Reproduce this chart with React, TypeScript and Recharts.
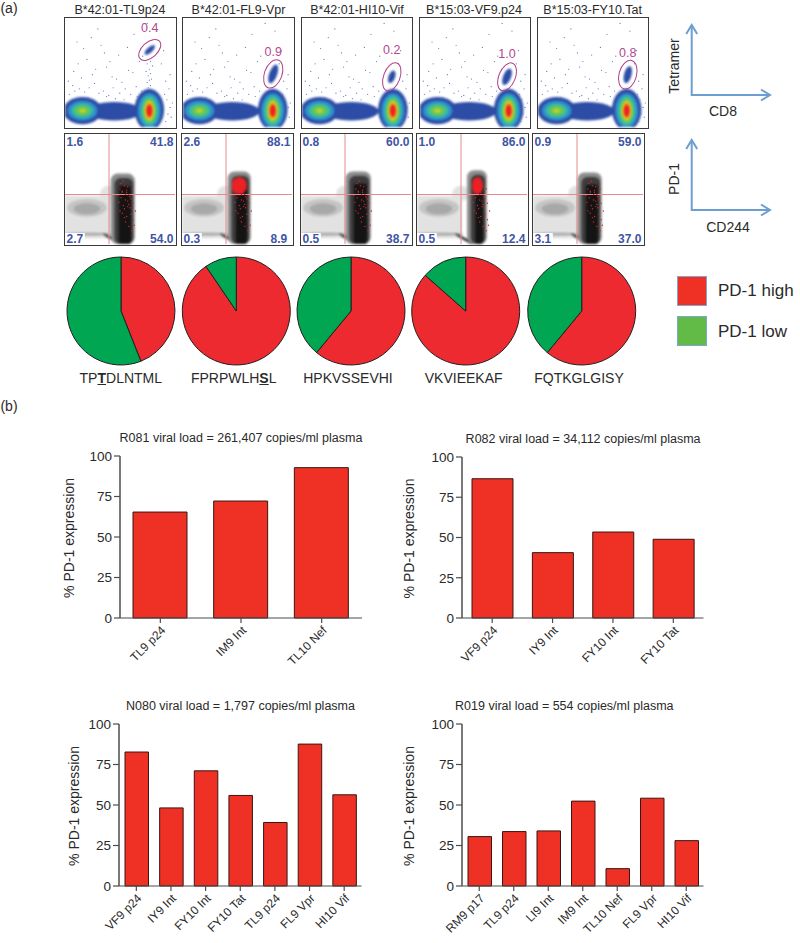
import {
  Bar,
  BarChart,
  CartesianGrid,
  Cell,
  Pie,
  PieChart,
  ReferenceArea,
  ReferenceDot,
  ReferenceLine,
  Scatter,
  ScatterChart,
  XAxis,
  YAxis,
} from "recharts";

const FONT = "'Liberation Sans', Arial, sans-serif";

// tetramer panels (a, top row)
const tetramerTitles = ["B*42:01-TL9p24", "B*42:01-FL9-Vpr", "B*42:01-HI10-Vif", "B*15:03-VF9.p24", "B*15:03-FY10.Tat"];
const tetramerLeft = [64, 182, 300.5, 418.5, 536.5];
const titleCentre = [120, 238.5, 357, 474, 592.7];
const lowBlobX = [16, 15, 16, 16, 17];
const highBlobX = [77, 82, 83, 81, 81];
const gateValues = ["0.4", "0.9", "0.2", "1.0", "0.8"];
const gateX = [77.4, 82.4, 82, 79.5, 82];
const gateY = [70.7, 48.7, 46, 46, 48];
const gateLong = [12, 13.5, 13.5, 13.5, 13.5];
const gateShort = [7, 8, 7.5, 7.5, 8];
const gateTilt = [48, 20, 20, 22, 15];
const gateLabelY = [91.6, 69, 70.7, 67, 68];
const clusterLong = [6, 9, 6, 8, 8];
const clusterShort = [2.5, 3.6, 3, 3.6, 3.4];

const lowBlobLevels = [
  { level: 0, y: 15, rx: 17.5, ry: 12.5 },
  { level: 1, y: 15, rx: 13.5, ry: 9 },
  { level: 2, y: 15, rx: 10, ry: 6.5 },
  { level: 3, y: 15, rx: 6.5, ry: 4 },
  { level: 4, y: 15, rx: 3, ry: 2 },
];
const highBlobLevels = [
  { level: 0, y: 16, rx: 13.5, ry: 19 },
  { level: 1, y: 15, rx: 10.5, ry: 16 },
  { level: 2, y: 15, rx: 8, ry: 13.5 },
  { level: 3, y: 15, rx: 6, ry: 11 },
  { level: 4, y: 15, rx: 4.6, ry: 9 },
  { level: 5, y: 15, rx: 3.6, ry: 7.5 },
  { level: 6, y: 15, rx: 2.6, ry: 5.5 },
];
const bridgeBlob = { x: 45, y: 14.5, rx: 25, ry: 8.5, level: 0 };

const noiseX = [4, 9, 13, 7, 18, 22, 27, 31, 15, 25, 35, 40, 44, 38, 50, 55, 47, 60, 65, 58, 70, 3, 12, 20, 28, 36, 43, 52, 62, 68, 92, 94, 96, 93, 97, 91, 95, 98, 92, 96, 33, 41, 24, 17, 8, 49, 57, 63, 30, 11, 75, 88, 84, 71, 90, 38, 21, 46, 54, 66];
const noiseY = [30, 33, 35, 38, 32, 36, 40, 31, 45, 48, 33, 29, 36, 55, 31, 35, 44, 30, 37, 52, 33, 42, 58, 62, 53, 68, 46, 41, 50, 60, 5, 12, 18, 25, 9, 30, 35, 22, 42, 48, 75, 60, 82, 72, 51, 66, 73, 85, 90, 78, 95, 58, 88, 65, 70, 28, 27, 26, 25, 28];
const tailX = [76, 78, 75, 77, 79, 76, 78, 74, 77, 80, 75, 78];
const tailY = [36, 38, 41, 43, 44, 47, 49, 51, 53, 56, 58, 60];

// density panels (a, second row)
const densityLeft = [64, 181, 299.5, 415.5, 532];
const upperLeft = ["1.6", "2.6", "0.8", "1.0", "0.9"];
const upperRight = ["41.8", "88.1", "60.0", "86.0", "59.0"];
const lowerLeft = ["2.7", "0.3", "0.5", "0.5", "3.1"];
const lowerRight = ["54.0", "8.9", "38.7", "12.4", "37.0"];
const columnLeft = [43, 43, 42, 47, 42];
const columnRight = [62, 61, 62, 62, 61];
const columnTop = [61, 63, 63, 64, 62];
const hotX = [53, 52, 53, 55, 53];
const hotY = [46, 53, 45, 53, 50];
const hotWidth = [0, 7, 0, 5, 0];
const hotHeight = [0, 8, 0, 8, 0];
const speckleX = [48, 50, 52, 54, 56, 58, 60, 62, 49, 51, 53, 55, 57, 59, 61, 50, 52, 54, 56, 58, 60, 53, 55, 57, 59, 51, 54, 56, 62, 64, 63, 61, 55, 58, 52, 57];
const speckleY = [44, 50, 47, 53, 49, 45, 41, 37, 38, 42, 35, 45, 39, 33, 50, 30, 28, 32, 25, 36, 27, 57, 40, 52, 43, 55, 24, 47, 22, 30, 17, 12, 20, 16, 48, 34];

// pies
const pieHigh = [44, 90.5, 61, 86.5, 61];
const pieLow = [56, 9.5, 39, 13.5, 39];
const pieCentreX = [121, 236.3, 351, 465.7, 581.7];
const peptideCentreX = [120.8, 233.7, 348, 463.7, 579];

// bars (b)
const r081Categories = ["TL9 p24", "IM9 Int", "TL10 Nef"];
const r081Values = [65.4, 72.2, 92.8];
const r082Categories = ["VF9 p24", "IY9 Int", "FY10 Int", "FY10 Tat"];
const r082Values = [86.5, 40.6, 53.4, 48.9];
const n080Categories = ["VF9 p24", "IY9 Int", "FY10 Int", "FY10 Tat", "TL9 p24", "FL9 Vpr", "HI10 Vif"];
const n080Values = [82.7, 48.2, 71.1, 55.9, 39.2, 87.6, 56.3];
const r019Categories = ["RM9 p17", "TL9 p24", "LI9 Int", "IM9 Int", "TL10 Nef", "FL9 Vpr", "HI10 Vif"];
const r019Values = [30.5, 33.6, 34, 52.4, 10.7, 54.2, 28];
const percentTicks = [0, 25, 50, 75, 100];

const heatColors = ["#2c4ca6", "#2f90cc", "#38bfa5", "#74c648", "#c9dc2a", "#f6921e", "#ed2024"];
const lowHeatColors = ["#2c4ca6", "#2f90cc", "#3bbf9c", "#74c648", "#b5d334"];
const greyColors = ["#e2e2e2", "#c4c4c4", "#a8a8a8", "#8c8c8c", "#3c3c3c", "#141414"];

const FLOW_W = 112.5;
const FLOW_H = 112;

function Blob(props: any) {
  const { cx, cy, payload, colors, unitX, unitY } = props;
  const rx = payload.rx * unitX;
  const ry = payload.ry * unitY;
  const fill = colors[payload.level];
  if (payload.box) {
    return <rect x={cx - rx} y={cy - ry} width={rx * 2} height={ry * 2} rx={payload.round || 0} fill={fill} />;
  }
  return (
    <ellipse
      cx={cx}
      cy={cy}
      rx={rx}
      ry={ry}
      fill={payload.hollow ? "none" : fill}
      stroke={payload.hollow ? "#b0408a" : "none"}
      strokeWidth={1}
      transform={payload.tilt ? `rotate(${payload.tilt} ${cx} ${cy})` : undefined}
    />
  );
}

function PlotFrame({ left, top, width, height, blur, under, over }: any) {
  const axes = [
    <XAxis key="x" type="number" dataKey="x" domain={[0, 100]} hide />,
    <YAxis key="y" type="number" dataKey="y" domain={[0, 100]} hide />,
  ];
  const inner = { width: width - 3, height: height - 3 };
  return (
    <div
      style={{
        position: "absolute",
        left,
        top,
        width,
        height,
        boxSizing: "border-box",
        border: "1.5px solid #3a3a3a",
        overflow: "hidden",
        background: "#fff",
      }}
    >
      <div style={{ position: "absolute", left: 0, top: 0, filter: `blur(${blur}px)` }}>
        <ScatterChart {...inner} margin={{ top: 0, right: 0, bottom: 0, left: 0 }}>
          {axes}
          {under}
        </ScatterChart>
      </div>
      <div style={{ position: "absolute", left: 0, top: 0 }}>
        <ScatterChart {...inner} margin={{ top: 0, right: 0, bottom: 0, left: 0 }}>
          {axes}
          {over}
        </ScatterChart>
      </div>
    </div>
  );
}

function TetramerPanel({ i }: { i: number }) {
  const blobs = [
    { ...bridgeBlob },
    ...lowBlobLevels.map((b) => ({ ...b, x: lowBlobX[i], low: true })),
  ];
  const hot = highBlobLevels.map((b) => ({ ...b, x: highBlobX[i] }));
  const cluster = [{ x: gateX[i], y: gateY[i], rx: clusterShort[i], ry: clusterLong[i], tilt: gateTilt[i], level: 0 }];
  const gate = [{ x: gateX[i], y: gateY[i], rx: gateShort[i], ry: gateLong[i], tilt: gateTilt[i], hollow: true, level: 0 }];
  const noise = noiseX.map((x, k) => ({ x, y: noiseY[k] }));
  const tail = i === 0 ? tailX.map((x, k) => ({ x, y: tailY[k] })) : [];
  const unitX = (FLOW_W - 3) / 100;
  const unitY = (FLOW_H - 3) / 100;
  return (
    <PlotFrame
      left={tetramerLeft[i]}
      top={16.5}
      width={FLOW_W}
      height={FLOW_H}
      blur={1}
      under={[
        <Scatter key="low" data={blobs} isAnimationActive={false} shape={<Blob colors={lowHeatColors} unitX={unitX} unitY={unitY} />} />,
        <Scatter key="high" data={hot} isAnimationActive={false} shape={<Blob colors={heatColors} unitX={unitX} unitY={unitY} />} />,
        <Scatter key="cluster" data={cluster} isAnimationActive={false} shape={<Blob colors={heatColors} unitX={unitX} unitY={unitY} />} />,
      ]}
      over={[
        <Scatter key="noise" data={[...noise, ...tail]} isAnimationActive={false} shape={(p: any) => <circle cx={p.cx} cy={p.cy} r={0.6} fill="#5f78bd" />} />,
        <Scatter key="gate" data={gate} isAnimationActive={false} shape={<Blob colors={heatColors} unitX={unitX} unitY={unitY} />} />,
        <ReferenceDot
          key="value"
          x={gateX[i]}
          y={gateLabelY[i]}
          r={0}
          label={{ value: gateValues[i], position: "center", fill: "#b5478f", fontSize: 12.5, fontFamily: FONT }}
        />,
      ]}
    />
  );
}

function DensityPanel({ i }: { i: number }) {
  const mid = (columnLeft[i] + columnRight[i]) / 2;
  const half = (columnRight[i] - columnLeft[i]) / 2;
  const shapes = [
    { x: 20.5, y: 24.5, rx: 20.5, ry: 19.5, box: true, level: 0 },
    { x: 40, y: 46, rx: 8, ry: 7, level: 0 },
    { x: 20, y: 33, rx: 18, ry: 8, level: 1 },
    { x: 20, y: 32, rx: 12, ry: 5, level: 2 },
    { x: 20, y: 9, rx: 22, ry: 1.3, level: 2 },
    { x: 44, y: 4, rx: 11, ry: 1.3, tilt: 30, level: 4 },
    { x: mid, y: (columnTop[i] + 3) / 2, rx: half + 1.5, ry: (columnTop[i] + 3) / 2, box: true, round: 7, level: 3 },
    { x: mid + 1, y: (columnTop[i] - 1) / 2, rx: half - 1, ry: (columnTop[i] - 1) / 2, box: true, round: 6, level: 4 },
    { x: mid + 2, y: (columnTop[i] - 8) / 2, rx: half - 4, ry: (columnTop[i] - 8) / 2, box: true, round: 3, level: 5 },
  ];
  const speckle = speckleX.map((x, k) => ({ x: x + hotX[i] - 53, y: speckleY[k] }));
  const hot = hotWidth[i] ? [{ x: hotX[i], y: hotY[i], rx: hotWidth[i], ry: hotHeight[i], level: 6 }] : [];
  const unitX = (113 - 3) / 100;
  const unitY = (113 - 3) / 100;
  const labels = [
    { x: 9, y: 93, value: upperLeft[i] },
    { x: 88, y: 93, value: upperRight[i] },
    { x: 9, y: 5, value: lowerLeft[i] },
    { x: 88, y: 5, value: lowerRight[i] },
  ];
  return (
    <PlotFrame
      left={densityLeft[i]}
      top={133}
      width={113}
      height={113}
      blur={1.2}
      under={[
        <Scatter key="grey" data={shapes} isAnimationActive={false} shape={<Blob colors={greyColors} unitX={unitX} unitY={unitY} />} />,
        <Scatter key="hot" data={hot} isAnimationActive={false} shape={<Blob colors={heatColors} unitX={unitX} unitY={unitY} />} />,
      ]}
      over={[
        <ReferenceArea key="patch" x1={0} x2={18} y1={0} y2={10} fill="#fff" fillOpacity={1} stroke="none" />,
        <Scatter key="speckle" data={speckle} isAnimationActive={false} shape={(p: any) => <circle cx={p.cx} cy={p.cy} r={0.7} fill="#e0202a" />} />,
        <ReferenceLine key="v" x={40} stroke="#e98a8a" strokeWidth={1} />,
        <ReferenceLine key="h" y={45} stroke="#e98a8a" strokeWidth={1} />,
        ...labels.map((l) => (
          <ReferenceDot
            key={l.value + l.x + l.y}
            x={l.x}
            y={l.y}
            r={0}
            label={{ value: l.value, position: "center", fill: "#3f55a5", fontSize: 12, fontWeight: 700, fontFamily: FONT }}
          />
        )),
      ]}
    />
  );
}

function Peptide({ x, children }: any) {
  return (
    <div
      style={{
        position: "absolute",
        left: x - 60,
        top: 370,
        width: 120,
        textAlign: "center",
        fontSize: 14,
        lineHeight: "16px",
        color: "#2a2a2a",
        fontFamily: FONT,
      }}
    >
      {children}
    </div>
  );
}

function Caption({ x, y, size = 13, rotate = 0, children }: any) {
  return (
    <div
      style={{
        position: "absolute",
        left: x - 100,
        top: y - 12,
        width: 200,
        height: 24,
        lineHeight: "24px",
        textAlign: "center",
        fontSize: size,
        color: "#2a2a2a",
        fontFamily: FONT,
        transform: rotate ? `rotate(${rotate}deg)` : undefined,
        whiteSpace: "nowrap",
      }}
    >
      {children}
    </div>
  );
}

function AxisArrows({ originY, topY }: { originY: number; topY: number }) {
  const ox = 691.7;
  const ex = 770;
  const stroke = "#6c9ed2";
  return (
    <svg style={{ position: "absolute", left: 0, top: 0 }} width={800} height={260}>
      <g fill="none" stroke={stroke} strokeWidth={2}>
        <path d={`M${ox} ${topY} V${originY} H${ex}`} />
        <path d={`M${ox - 5.5} ${topY + 9} L${ox} ${topY} L${ox + 5.5} ${topY + 9}`} />
        <path d={`M${ex - 9} ${originY - 5.5} L${ex} ${originY} L${ex - 9} ${originY + 5.5}`} />
      </g>
    </svg>
  );
}

function PercentBars({ categories, values, title, titleX, plotLeft, plotTop, plotWidth, plotHeight, labelGap, barSize }: any) {
  const MARGIN_LEFT = 80;
  const MARGIN_TOP = 30;
  const rows = categories.map((name: string, k: number) => ({ name, value: values[k] }));
  const axisColor = "#4d4d4d";
  return (
    <div style={{ position: "absolute", left: plotLeft - MARGIN_LEFT, top: plotTop - MARGIN_TOP }}>
      <BarChart
        width={plotWidth + MARGIN_LEFT + 20}
        height={plotHeight + MARGIN_TOP + 60}
        data={rows}
        margin={{ top: MARGIN_TOP, right: 20, bottom: 0, left: 30 }}
        style={{ fontFamily: FONT }}
      >
        <CartesianGrid stroke="none" />
        <XAxis
          dataKey="name"
          interval={0}
          height={60}
          angle={-45}
          textAnchor="end"
          tickSize={5}
          tick={{ fontSize: 12, fill: "#2a2a2a" }}
          stroke={axisColor}
          tickLine={{ stroke: axisColor, strokeWidth: 1.2 }}
          axisLine={{ stroke: axisColor, strokeWidth: 1.2 }}
        />
        <YAxis
          width={50}
          domain={[0, 100]}
          ticks={percentTicks}
          tickSize={6}
          tick={{ fontSize: 13.5, fill: "#2a2a2a" }}
          tickLine={{ stroke: axisColor, strokeWidth: 1.2 }}
          axisLine={{ stroke: axisColor, strokeWidth: 1.5 }}
        />
        <Bar dataKey="value" barSize={barSize} fill="#ee3124" stroke="#3a1512" strokeWidth={1} isAnimationActive={false} />
        <text
          x={titleX - (plotLeft - MARGIN_LEFT)}
          y={MARGIN_TOP - 17}
          textAnchor="middle"
          dominantBaseline="middle"
          fontSize={12.5}
          fill="#2a2a2a"
        >
          {title}
        </text>
        <text
          transform={`translate(${MARGIN_LEFT - labelGap} ${MARGIN_TOP + plotHeight / 2 + 1}) rotate(-90)`}
          textAnchor="middle"
          dominantBaseline="middle"
          fontSize={14}
          fill="#2a2a2a"
        >
          % PD-1 expression
        </text>
      </BarChart>
    </div>
  );
}

export default function App() {
  return (
    <div style={{ position: "absolute", left: 0, top: 0, width: 800, height: 943, background: "#fff", overflow: "hidden" }}>
      <Caption x={9} y={8} size={14}>(a)</Caption>
      <Caption x={9} y={406} size={14}>(b)</Caption>

      {tetramerTitles.map((t, i) => (
        <Caption key={t} x={titleCentre[i]} y={9.5} size={12.5}>{t}</Caption>
      ))}
      {tetramerLeft.map((_, i) => <TetramerPanel key={i} i={i} />)}
      {densityLeft.map((_, i) => <DensityPanel key={i} i={i} />)}

      <AxisArrows originY={95} topY={25} />
      <AxisArrows originY={210} topY={140} />
      <Caption x={674} y={66} size={14} rotate={-90}>Tetramer</Caption>
      <Caption x={723} y={111} size={14}>CD8</Caption>
      <Caption x={674} y={179} size={14} rotate={-90}>PD-1</Caption>
      <Caption x={728} y={227} size={14}>CD244</Caption>

      <div style={{ position: "absolute", left: 0, top: 250 }}>
        <PieChart width={660} height={120} margin={{ top: 0, right: 0, bottom: 0, left: 0 }}>
          {pieHigh.map((v, i) => (
            <Pie
              key={i}
              data={[{ name: "PD-1 high", value: v }, { name: "PD-1 low", value: pieLow[i] }]}
              dataKey="value"
              cx={pieCentreX[i]}
              cy={61}
              innerRadius={0}
              outerRadius={54}
              startAngle={90}
              endAngle={-270}
              stroke="#231f20"
              strokeWidth={1}
              isAnimationActive={false}
            >
              <Cell fill="#ed2a2f" />
              <Cell fill="#00a651" />
            </Pie>
          ))}
        </PieChart>
      </div>

      <Peptide x={peptideCentreX[0]}>TP<b style={{ textDecoration: "underline" }}>T</b>DLNTML</Peptide>
      <Peptide x={peptideCentreX[1]}>FPRPWLH<b style={{ textDecoration: "underline" }}>S</b>L</Peptide>
      <Peptide x={peptideCentreX[2]}>HPKVSSEVHI</Peptide>
      <Peptide x={peptideCentreX[3]}>VKVIEEKAF</Peptide>
      <Peptide x={peptideCentreX[4]}>FQTKGLGISY</Peptide>

      <div style={{ position: "absolute", left: 677, top: 276, width: 30, height: 30, boxSizing: "border-box", background: "#ee3124", border: "1px solid #7ea6d3" }} />
      <div style={{ position: "absolute", left: 677, top: 316, width: 30, height: 30, boxSizing: "border-box", background: "#62bb46", border: "1px solid #7ea6d3" }} />
      <div style={{ position: "absolute", left: 718, top: 281, fontSize: 17, lineHeight: "20px", color: "#2a2a2a", fontFamily: FONT }}>PD-1 high</div>
      <div style={{ position: "absolute", left: 718, top: 322, fontSize: 17, lineHeight: "20px", color: "#2a2a2a", fontFamily: FONT }}>PD-1 low</div>

      <PercentBars categories={r081Categories} values={r081Values} title="R081 viral load = 261,407 copies/ml plasma" titleX={241} plotLeft={120} plotTop={456} plotWidth={242} plotHeight={162} labelGap={50} barSize={54} />
      <PercentBars categories={r082Categories} values={r082Values} title="R082 viral load = 34,112 copies/ml plasma" titleX={582.8} plotLeft={461.7} plotTop={456.5} plotWidth={241.5} plotHeight={161} labelGap={52} barSize={41} />
      <PercentBars categories={n080Categories} values={n080Values} title="N080 viral load = 1,797 copies/ml plasma" titleX={240.8} plotLeft={119.3} plotTop={724} plotWidth={242.5} plotHeight={162} labelGap={44} barSize={23.5} />
      <PercentBars categories={r019Categories} values={r019Values} title="R019 viral load = 554 copies/ml plasma" titleX={564} plotLeft={461.7} plotTop={724} plotWidth={241.5} plotHeight={162} labelGap={52} barSize={23.5} />
    </div>
  );
}
